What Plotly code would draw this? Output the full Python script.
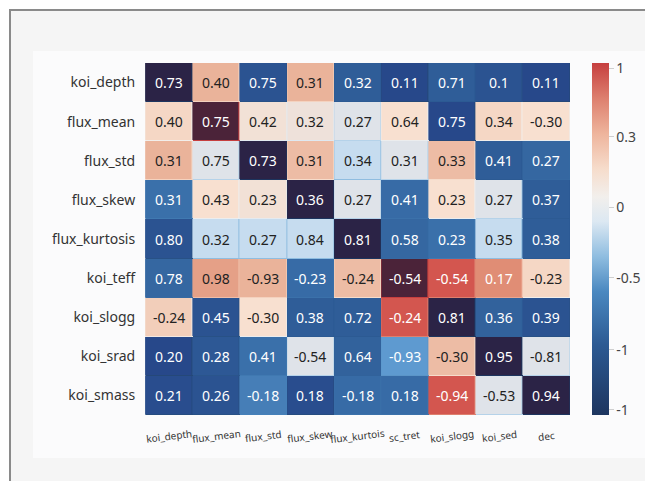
import plotly.graph_objects as go

# ---- data ----
x_labels = ["koi_depth", "flux_mean", "flux_std", "flux_skew", "flux_kurtois",
            "sc_tret", "koi_slogg", "koi_sed", "dec"]
y_labels = ["koi_depth", "flux_mean", "flux_std", "flux_skew", "flux_kurtosis",
            "koi_teff", "koi_slogg", "koi_srad", "koi_smass"]

# printed cell values
cell_text = [
    ["0.73", "0.40", "0.75", "0.31", "0.32", "0.11", "0.71", "0.1", "0.11"],
    ["0.40", "0.75", "0.42", "0.32", "0.27", "0.64", "0.75", "0.34", "-0.30"],
    ["0.31", "0.75", "0.73", "0.31", "0.34", "0.31", "0.33", "0.41", "0.27"],
    ["0.31", "0.43", "0.23", "0.36", "0.27", "0.41", "0.23", "0.27", "0.37"],
    ["0.80", "0.32", "0.27", "0.84", "0.81", "0.58", "0.23", "0.35", "0.38"],
    ["0.78", "0.98", "-0.93", "-0.23", "-0.24", "-0.54", "-0.54", "0.17", "-0.23"],
    ["-0.24", "0.45", "-0.30", "0.38", "0.72", "-0.24", "0.81", "0.36", "0.39"],
    ["0.20", "0.28", "0.41", "-0.54", "0.64", "-0.93", "-0.30", "0.95", "-0.81"],
    ["0.21", "0.26", "-0.18", "0.18", "-0.18", "0.18", "-0.94", "-0.53", "0.94"],
]

# colour intensity of each cell as shown in the picture (not the printed value)
cell_color = [
    [-1.0, 0.45, -0.7, 0.45, -0.6, -0.8, -0.6, -0.7, -0.8],
    [0.25, 1.0, 0.15, 0.12, 0.0, 0.2, -0.8, 0.25, 0.2],
    [0.45, 0.0, -1.0, 0.4, -0.1, 0.0, 0.4, -0.6, -0.5],
    [-0.4, 0.2, 0.15, -1.0, 0.0, -0.45, 0.2, 0.0, -0.6],
    [-0.7, -0.1, -0.1, -0.1, -1.0, -0.5, -0.4, -0.1, -0.6],
    [-0.5, 0.55, 0.45, -0.45, 0.4, 1.0, 0.8, 0.65, 0.25],
    [0.3, -0.7, 0.2, -0.6, -0.6, 0.8, -1.0, -0.55, -0.7],
    [-0.8, -0.65, -0.4, 0.0, -0.55, -0.25, 0.4, -1.0, 0.0],
    [-0.75, -0.7, -0.35, -0.75, -0.45, -0.45, 0.8, 0.0, -1.0],
]

cbar_tickvals = [0.97, 0.58, 0.18, -0.22, -0.63, -0.97]
cbar_ticktext = ["1", "0.3", "0", "-0.5", "-1", "-1"]

# ---- styles ----
cell_scale = [
    [0.0, "#2b2346"],
    [0.10, "#27488a"],
    [0.20, "#2f5d98"],
    [0.30, "#3a70aa"],
    [0.375, "#5e9ad0"],
    [0.45, "#c6dcef"],
    [0.50, "#dfe3e9"],
    [0.60, "#f8e0d0"],
    [0.725, "#eab39a"],
    [0.825, "#e08d75"],
    [0.90, "#d3564f"],
    [1.0, "#4b2339"],
]
bar_scale = [
    [0.0, "#1d355f"],
    [0.2, "#2c5a93"],
    [0.35, "#4a88c0"],
    [0.45, "#8fbde0"],
    [0.55, "#dce8f2"],
    [0.62, "#f2efec"],
    [0.70, "#f6dccb"],
    [0.80, "#eeb49c"],
    [0.90, "#dd7f6e"],
    [1.0, "#c63f3f"],
]

font = "Noto Sans, Open Sans, sans-serif"

# page body margin offsets the figure by 8px in the screenshot
OFF = 8
L, R, T, B = 143 - OFF, 570 - OFF, 63 - OFF, 415 - OFF   # plot area in figure px
W, H = 653, 481
px = lambda v: (v - OFF - L) / (R - L)
py = lambda v: (B - (v - OFF)) / (B - T)

fig = go.Figure()
# trace providing the colour bar (hidden beneath the main heatmap)
fig.add_trace(go.Heatmap(
    z=cell_color, x=x_labels, y=y_labels, colorscale=bar_scale,
    zmin=-1, zmax=1, showscale=True, hoverinfo="skip",
    colorbar=dict(
        thickness=17, len=1.0, lenmode="fraction", x=px(592), xanchor="left",
        xpad=0, ypad=0,
        y=0.5, yanchor="middle", outlinewidth=0,
        tickvals=cbar_tickvals, ticktext=cbar_ticktext,
        ticks="outside", ticklen=5, tickcolor="#cfcfcf",
        tickfont=dict(size=14, color="#444", family=font),
    ),
))
fig.add_trace(go.Heatmap(
    z=cell_color, x=x_labels, y=y_labels, colorscale=cell_scale,
    zmin=-1, zmax=1, showscale=False, xgap=1, ygap=1,
    text=cell_text, hovertemplate="%{y} / %{x}: %{text}<extra></extra>",
))

for i, yl in enumerate(y_labels):
    for j, xl in enumerate(x_labels):
        c = cell_color[i][j]
        light = c <= -0.25 or c >= 0.65
        fig.add_annotation(x=xl, y=yl, text=cell_text[i][j], showarrow=False,
                           font=dict(size=14, family=font,
                                     color="#ffffff" if light else "#222222"))

# slightly tilted, centred category labels under the columns
for xl in x_labels:
    fig.add_annotation(x=xl, xref="x", y=py(436), yref="paper", text=xl,
                       showarrow=False, textangle=-7, xanchor="center",
                       yanchor="middle",
                       font=dict(size=10, family=font, color="#333"))

fig.add_shape(type="rect", xref="paper", yref="paper", layer="below",
              x0=px(10), x1=px(720), y0=py(10), y1=py(540),
              line=dict(color="#8a8a8a", width=2), fillcolor="#f5f5f5")
fig.add_shape(type="rect", xref="paper", yref="paper", layer="below",
              x0=px(33), x1=px(650), y0=py(51), y1=py(458),
              line=dict(width=0), fillcolor="#fbfbfc")

fig.update_layout(
    width=W, height=H,
    margin=dict(l=L, r=W - R, t=T, b=H - B, autoexpand=False),
    paper_bgcolor="#ffffff", plot_bgcolor="rgba(0,0,0,0)",
    font=dict(family=font, color="#333"),
    xaxis=dict(showgrid=False, zeroline=False, showticklabels=False,
               ticks="", automargin=False),
    yaxis=dict(showgrid=False, zeroline=False, autorange="reversed",
               ticks="outside", ticklen=4, tickcolor="rgba(0,0,0,0)",
               automargin=False,
               tickfont=dict(size=14, color="#333", family=font)),
)

fig.write_html("out.html")
